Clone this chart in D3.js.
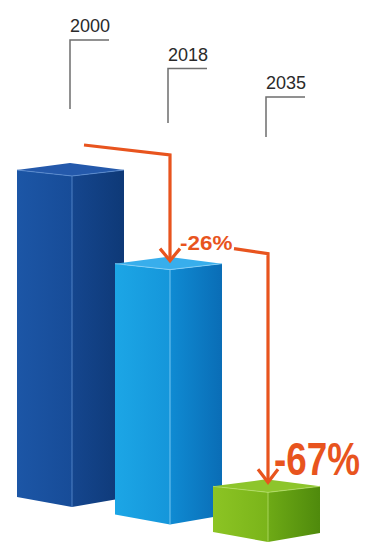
<!DOCTYPE html>
<html>
<head>
    <meta charset="utf-8">
    <title>3D bars</title>
    <style>
        html, body {
            margin: 0;
            padding: 0;
            background: #ffffff;
            font-family: 'Liberation Sans', Arial, sans-serif;
        }
        svg { display: block; }
    </style>
</head>
<body>
    <div id="chart"></div>
    <script src="https://cdnjs.cloudflare.com/ajax/libs/d3/7.6.1/d3.min.js"></script>
    <script>
        // values (relative bar height, 2000 = 100)
        const years = ['2000', '2018', '2035'];
        const values = [100, 77, 15];
        const changeLabels = ['-26%', '-67%'];

        const faceColors = [
            { left: ['#1c56a6', '#174c98'], right: ['#15468e', '#0e3977'], top: '#2459ab', edge: '#5d8fd2' },
            { left: ['#1ca6e6', '#1596da'], right: ['#0f8bd3', '#0a6db6'], top: '#38aeec', edge: '#8fd3f7' },
            { left: ['#8cc424', '#7ab41a'], right: ['#6eaa16', '#4f8a0c'], top: '#8dc52c', edge: '#b5de6a' }
        ];

        const width = 367, height = 543;
        const orange = '#e8541e';

        const svg = d3.select('#chart').append('svg')
            .attr('width', width)
            .attr('height', height);

        const defs = svg.append('defs');

        // front corner of each box
        const x = d3.scalePoint().domain(years).range([72, 268]);
        // bars step down the page as they go back-to-front
        const base = d3.scalePoint().domain(years).range([507, 542]);
        const h = d3.scaleLinear().domain([0, 100]).range([0, 331]);

        // year labels and their leader lines
        const labelY = d3.scalePoint().domain(years).range([32, 89]);
        const leaderEnd = d3.scalePoint().domain(years).range([109, 137]);

        const halfL = 55, halfR = 52;

        const bars = years.map((y, i) => {
            const cx = x(y);
            const b = base(y);
            const t = b - h(values[i]);
            return { year: y, cx, base: b, top: t, i };
        });

        bars.forEach((d) => {
            const c = faceColors[d.i];
            ['left', 'right'].forEach((side) => {
                const g = defs.append('linearGradient')
                    .attr('id', `g-${side}-${d.i}`)
                    .attr('x1', '0').attr('x2', '1').attr('y1', '0').attr('y2', '0');
                g.append('stop').attr('offset', '0').attr('stop-color', c[side][0]);
                g.append('stop').attr('offset', '1').attr('stop-color', c[side][1]);
            });
        });

        const boxes = svg.append('g')
            .selectAll('g')
            .data(bars)
            .enter()
            .append('g');

        boxes.append('path')
            .attr('fill', (d) => `url(#g-left-${d.i})`)
            .attr('d', (d) => `M${d.cx - halfL},${d.top - 6} L${d.cx},${d.top} L${d.cx},${d.base} L${d.cx - halfL},${d.base - 10} Z`);

        boxes.append('path')
            .attr('fill', (d) => `url(#g-right-${d.i})`)
            .attr('d', (d) => `M${d.cx},${d.top} L${d.cx + halfR},${d.top - 6} L${d.cx + halfR},${d.base - 9} L${d.cx},${d.base} Z`);

        boxes.append('path')
            .attr('fill', (d) => faceColors[d.i].top)
            .attr('d', (d) => `M${d.cx - halfL},${d.top - 6} L${d.cx - 2},${d.top - 13} L${d.cx + halfR},${d.top - 6} L${d.cx},${d.top} Z`);

        // light front edges
        boxes.append('path')
            .attr('fill', 'none')
            .attr('stroke', (d) => faceColors[d.i].edge)
            .attr('stroke-width', 1)
            .attr('opacity', 0.8)
            .attr('d', (d) => `M${d.cx - halfL},${d.top - 6} L${d.cx},${d.top} L${d.cx + halfR},${d.top - 6} M${d.cx},${d.top} L${d.cx},${d.base}`);

        // year labels
        const labels = svg.append('g')
            .selectAll('g')
            .data(bars)
            .enter()
            .append('g');

        labels.append('text')
            .attr('x', (d) => d.cx - 2)
            .attr('y', (d) => labelY(d.year))
            .attr('font-size', 18)
            .attr('fill', '#2a2a2a')
            .text((d) => d.year);

        labels.append('path')
            .attr('fill', 'none')
            .attr('stroke', '#6e6e6e')
            .attr('stroke-width', 1.5)
            .attr('d', (d) => `M${d.cx - 2},${leaderEnd(d.year)} L${d.cx - 2},${labelY(d.year) + 8} L${d.cx + 37},${labelY(d.year) + 8}`);

        // change arrows
        const arrows = svg.append('g')
            .attr('fill', 'none')
            .attr('stroke', orange)
            .attr('stroke-width', 3.2);

        const [b0, b1, b2] = bars;

        arrows.append('path')
            .attr('d', `M${b0.cx + 12},${b0.top - 31} L${b1.cx},${b0.top - 21} L${b1.cx},${b1.top - 10}`);
        arrows.append('path')
            .attr('d', `M${b1.cx - 10},${b1.top - 21} L${b1.cx},${b1.top - 9} L${b1.cx + 10},${b1.top - 21}`);

        arrows.append('path')
            .attr('d', `M${b1.cx + 64},${b1.top - 21} L${b2.cx},${b1.top - 16} L${b2.cx},${b2.top - 11}`);
        arrows.append('path')
            .attr('d', `M${b2.cx - 10},${b2.top - 23} L${b2.cx},${b2.top - 10} L${b2.cx + 10},${b2.top - 23}`);

        // condensed look: squeeze the bold labels horizontally
        svg.append('text')
            .attr('transform', `translate(${b1.cx + 10},${b1.top - 20}) scale(1.07,1)`)
            .attr('font-size', 21)
            .attr('font-weight', 'bold')
            .attr('fill', orange)
            .text(changeLabels[0]);

        svg.append('text')
            .attr('transform', `translate(${b2.cx + 6},${b2.top - 17}) scale(0.8,1)`)
            .attr('font-size', 46)
            .attr('font-weight', 'bold')
            .attr('fill', orange)
            .text(changeLabels[1]);
    </script>
</body>
</html>
